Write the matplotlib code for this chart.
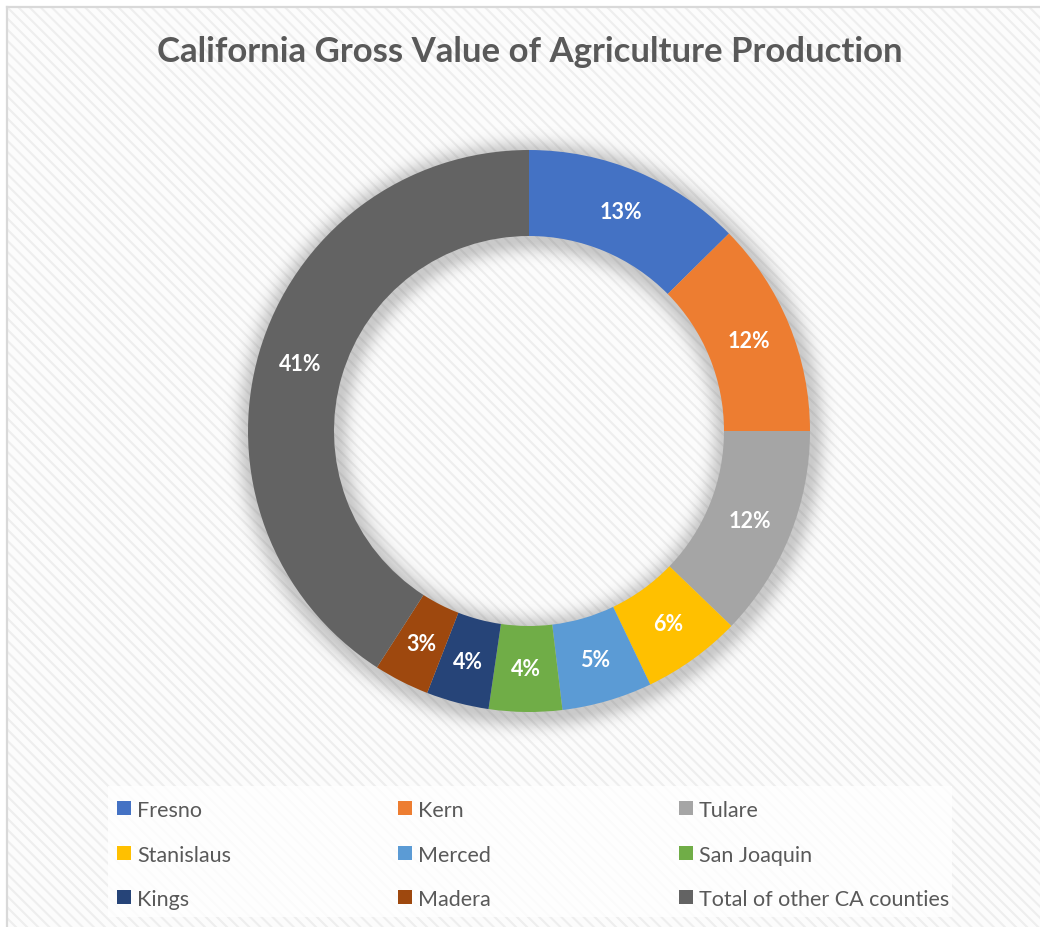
import numpy as np
import matplotlib
matplotlib.use("Agg")
import matplotlib.pyplot as plt
from matplotlib.patches import Rectangle
from matplotlib.lines import Line2D

# share of state gross value, percent
counties = ["Fresno", "Kern", "Tulare", "Stanislaus", "Merced", "San Joaquin",
            "Kings", "Madera", "Total of other CA counties"]
shares = [12.6, 12.4, 12.2, 5.7, 5.2, 4.2, 3.6, 3.2, 40.9]
colors = ["#4472C4", "#ED7D31", "#A5A5A5", "#FFC000", "#5B9BD5", "#70AD47",
          "#264478", "#9E480E", "#636363"]
title = "California Gross Value of Agriculture Production"

W, H = 1040, 928
plt.rcParams["font.family"] = ["Lato", "DejaVu Sans"]
plt.rcParams["hatch.linewidth"] = 1.5

fig = plt.figure(figsize=(W / 100, H / 100), dpi=100)
fig.patch.set_facecolor("white")

# striped chart area with a thin frame on the top and left
bg = Rectangle((7 / W, 0), 1 - 7 / W, 1 - 8 / H, transform=fig.transFigure,
               facecolor="#fcfcfc", edgecolor="#eeeeee", linewidth=0,
               hatch="\\\\\\", zorder=-2)
fig.patches.append(bg)
fig.lines.append(Line2D([7 / W, 7 / W], [0, 1 - 8 / H], transform=fig.transFigure,
                        color="#d9d9d9", linewidth=1.6, zorder=-1))
fig.lines.append(Line2D([7 / W, 1], [1 - 8 / H, 1 - 8 / H], transform=fig.transFigure,
                        color="#d9d9d9", linewidth=1.6, zorder=-1))

fig.text(530 / W, 1 - 52 / H, title, ha="center", va="center",
         fontsize=25, fontweight="bold", color="#595959")

# donut axes, centred on the ring
cx, cy, R = 529, 432, 281
lim = 1.25
S = 2 * R * lim
ax = fig.add_axes([(cx - S / 2) / W, 1 - (cy + S / 2) / H, S / W, S / H])
ax.set_xlim(-lim, lim)
ax.set_ylim(-lim, lim)
ax.set_aspect("equal")
ax.axis("off")
ax.patch.set_alpha(0)

r_in = 195 / 281

# soft drop shadow under the ring
g = np.linspace(-lim, lim, 900)
xx, yy = np.meshgrid(g, g)
rr = np.hypot(xx - 0.004, yy + 0.014)
d = np.maximum(np.maximum(rr - 1, r_in - rr), 0)
alpha = 0.2 * np.exp(-(d / 0.05) ** 2)
shadow = np.zeros(xx.shape + (4,))
shadow[..., 3] = alpha
ax.imshow(shadow, extent=(-lim, lim, -lim, lim), origin="lower",
          interpolation="bilinear", zorder=0)

wedges, _, pcts = ax.pie(
    shares, colors=colors, startangle=90, counterclock=False, radius=1,
    wedgeprops=dict(width=1 - r_in, edgecolor="none"),
    autopct=lambda p: f"{p:.0f}%", pctdistance=0.847,
)
for w in wedges:
    w.set_zorder(2)
for t in pcts:
    t.set_color("white")
    t.set_fontsize(15.5)
    t.set_fontweight("bold")
    t.set_zorder(3)
ax.set_xlim(-lim, lim)
ax.set_ylim(-lim, lim)

# legend: three columns, filled row by row
fig.patches.append(Rectangle((108 / W, 1 - 918 / H), (952 - 108) / W, (918 - 787) / H,
                             transform=fig.transFigure, facecolor="white",
                             alpha=0.8, edgecolor="none", zorder=1))
col_x = [117, 398, 679]
row_y = [809, 854, 898]
sq = 13.5
for i, (name, c) in enumerate(zip(counties, colors)):
    row, col = divmod(i, 3)
    x0, y0 = col_x[col], row_y[row]
    fig.patches.append(Rectangle((x0 / W, 1 - (y0 + sq / 2) / H), sq / W, sq / H,
                                 transform=fig.transFigure, facecolor=c,
                                 edgecolor="none", zorder=2))
    fig.text((x0 + 20) / W, 1 - y0 / H, name, ha="left", va="center_baseline",
             fontsize=15.5, color="#595959")

fig.savefig("out.png", dpi=100)
